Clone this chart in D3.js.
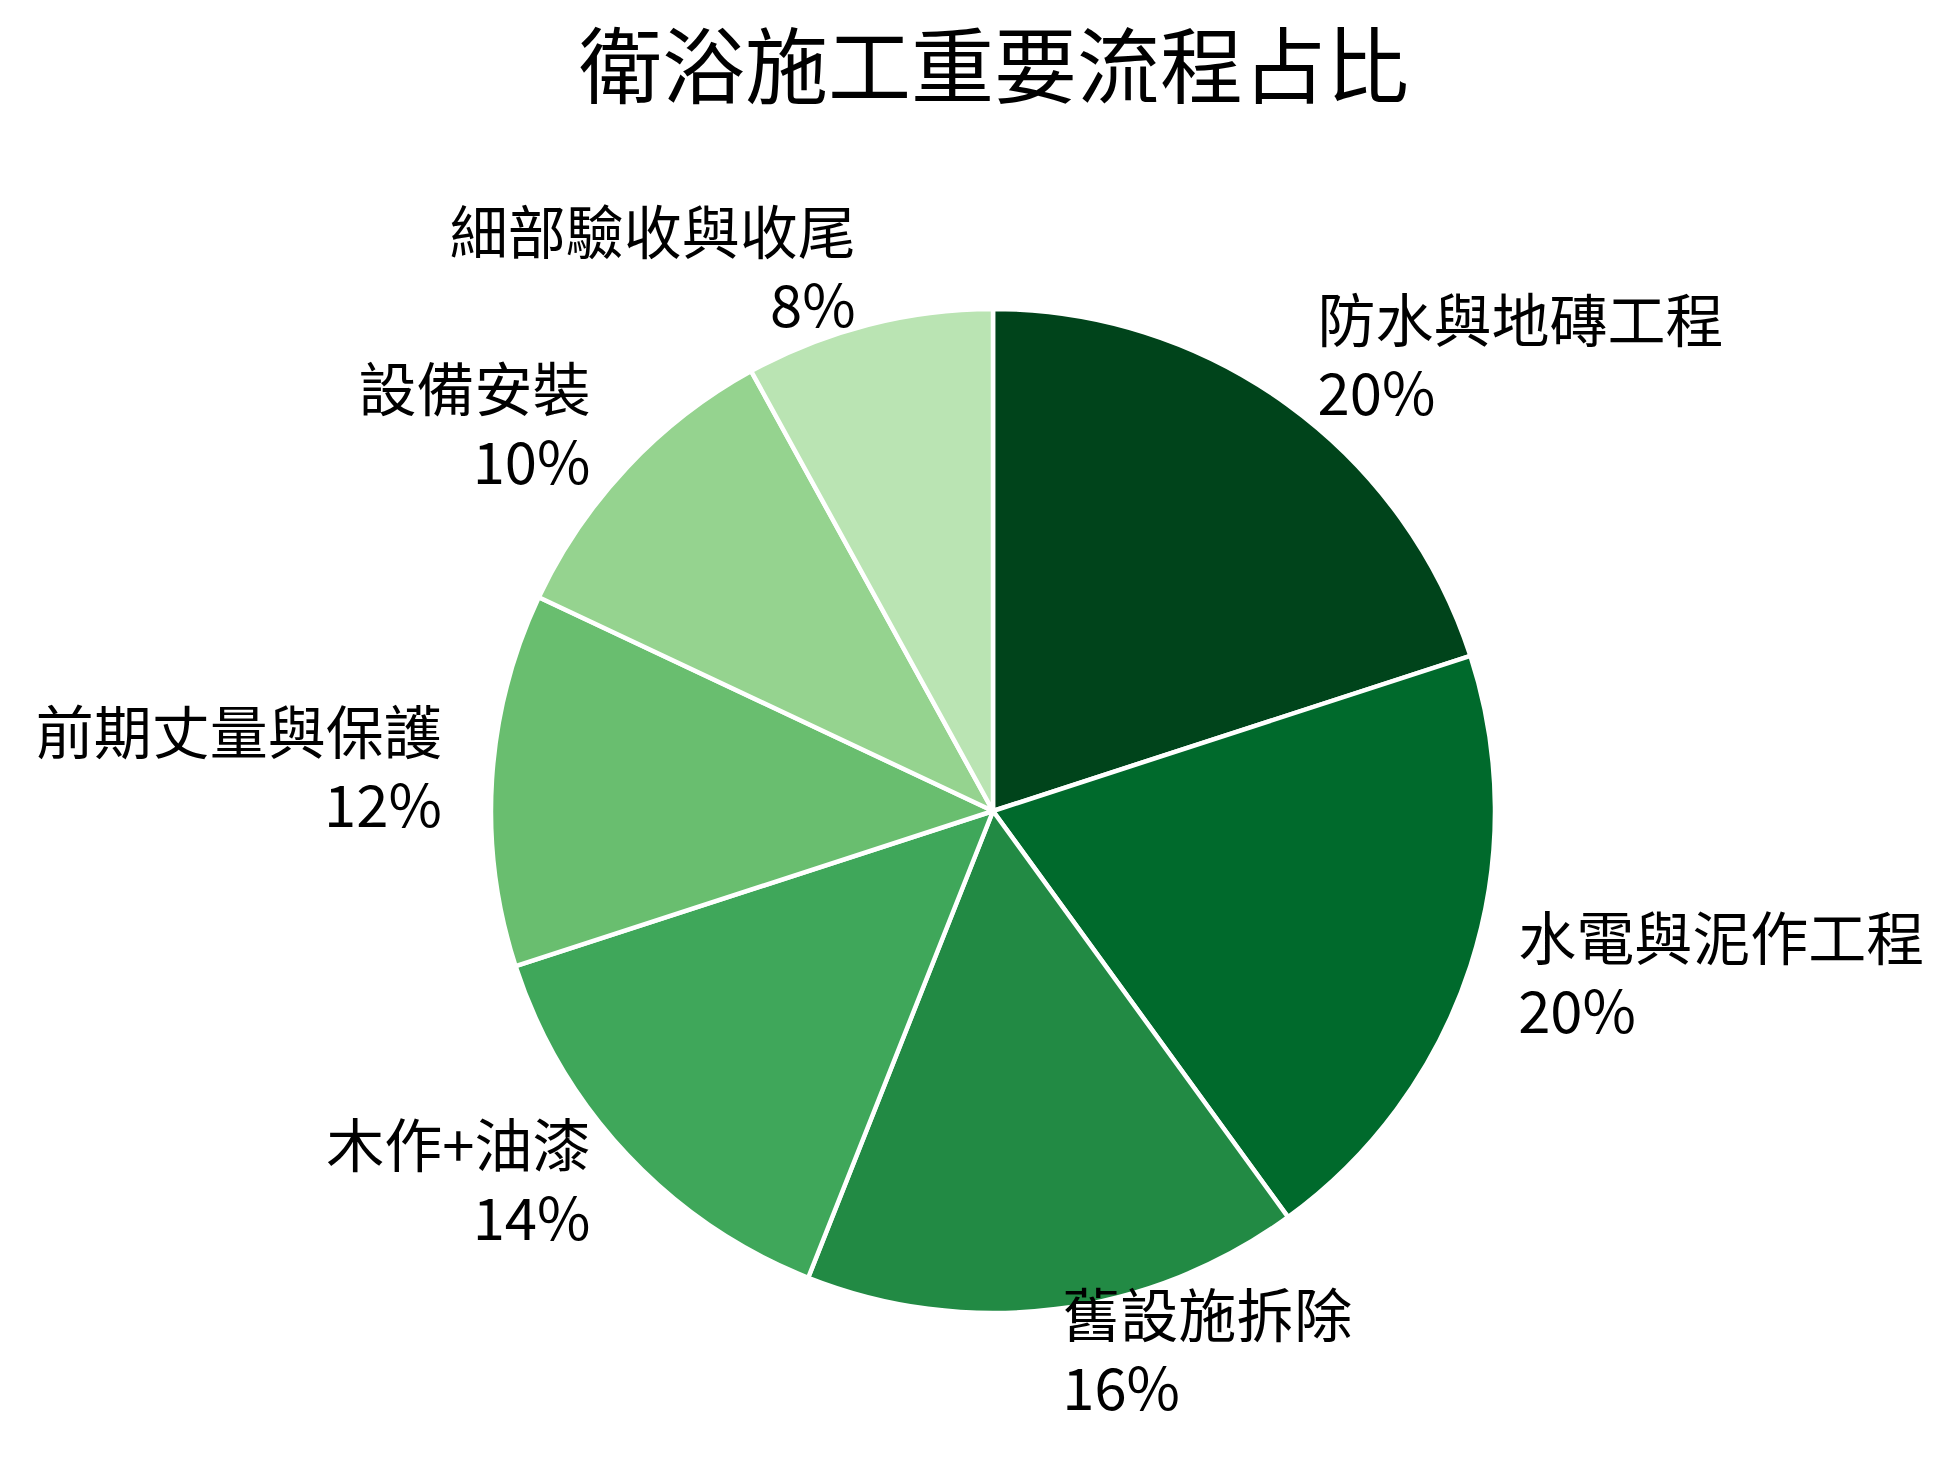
<html>
<head>
  <meta charset="utf-8">
  <title>衛浴施工重要流程占比</title>
  <script src="https://cdn.jsdelivr.net/npm/d3@7"></script>
  <style>
    body { margin: 0; background: #fff; }
    text { font-family: "Noto Sans CJK TC", "Noto Sans", sans-serif; fill: #000; }
  </style>
</head>
<body>
  <script>
    // slices, clockwise from 12 o'clock
    var stages = ["防水與地磚工程", "水電與泥作工程", "舊設施拆除", "木作+油漆", "前期丈量與保護", "設備安裝", "細部驗收與收尾"];
    var shares = [20, 20, 16, 14, 12, 10, 8];
    var colors = ["#00441b", "#006a2c", "#228a44", "#3fa75a", "#69be6f", "#95d38f", "#bae4b3"];
    var title = "衛浴施工重要流程占比";

    var w = 1955, h = 1468;
    var cx = 993, cy = 811, r = 502;

    var svg = d3.select("body").append("svg").attr("width", w).attr("height", h);

    svg.append("text")
      .attr("x", 994).attr("y", 97)
      .attr("text-anchor", "middle")
      .style("font-size", "83px")
      .text(title);

    var g = svg.append("g").attr("transform", "translate(" + cx + "," + cy + ")");

    var pie = d3.pie().sort(null).value(function(d) { return d; });
    var arc = d3.arc().innerRadius(0).outerRadius(r);
    var arcs = pie(shares);

    g.selectAll("path").data(arcs).enter().append("path")
      .attr("d", arc)
      .attr("fill", function(d, i) { return colors[i]; })
      .attr("stroke", "#fff")
      .attr("stroke-width", 4.5)
      .attr("stroke-linejoin", "round");

    // labels sit at 1.1 r, left side right-aligned, right side left-aligned
    var lab = g.selectAll("g.lab").data(arcs).enter().append("g")
      .attr("class", "lab")
      .attr("transform", function(d) {
        var a = (d.startAngle + d.endAngle) / 2;
        return "translate(" + (Math.sin(a) * r * 1.1) + "," + (-Math.cos(a) * r * 1.1) + ")";
      });

    lab.each(function(d, i) {
      var a = (d.startAngle + d.endAngle) / 2;
      var anchor = Math.sin(a) > 0 ? "start" : "end";
      var sel = d3.select(this);
      sel.append("text")
        .attr("text-anchor", anchor)
        .attr("y", -22)
        .style("font-size", "58px")
        .text(stages[i]);
      sel.append("text")
        .attr("text-anchor", anchor)
        .attr("y", 51)
        .style("font-size", "58px")
        .text(shares[i] + "%");
    });
  </script>
</body>
</html>
